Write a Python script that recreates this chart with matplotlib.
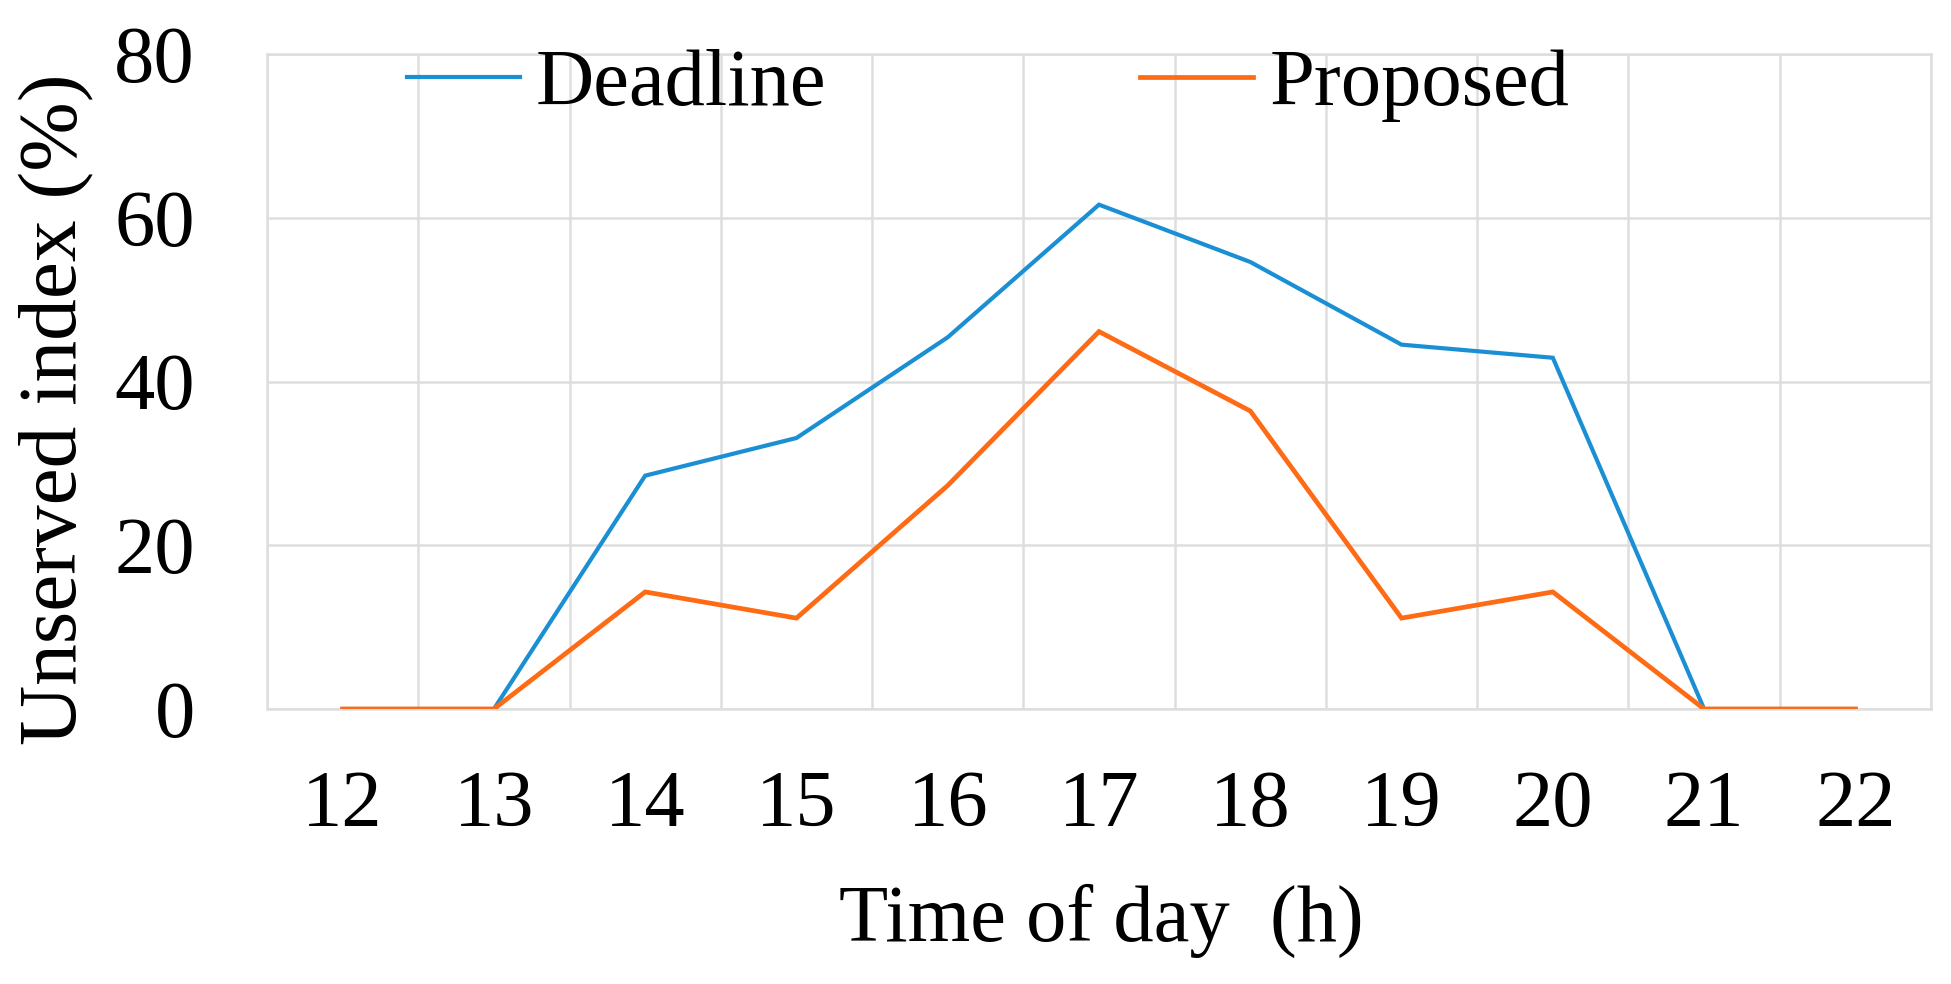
import numpy as np
import matplotlib
matplotlib.use("Agg")
import matplotlib.pyplot as plt

# data
hours = ["12", "13", "14", "15", "16", "17", "18", "19", "20", "21", "22"]
deadline = [0, 0, 28.5, 33.1, 45.4, 61.6, 54.6, 44.5, 42.9, 0, 0]
proposed = [0, 0, 14.3, 11.1, 27.3, 46.1, 36.4, 11.1, 14.3, 0, 0]
y_ticks = [0, 20, 40, 60, 80]

plt.rcParams['font.family'] = ['Liberation Serif', 'DejaVu Serif']
fs = 58
grid_col = '#dedede'

fig = plt.figure(figsize=(19.51, 9.84), dpi=100)
ax = fig.add_axes([267 / 1951, 1 - 709 / 984, (1931 - 267) / 1951, (709 - 54) / 984])

x = np.arange(len(hours))
ax.plot(x, deadline, color='#1a8fd4', lw=3.0, label='Deadline', solid_joinstyle='miter', zorder=3)
ax.plot(x, proposed, color='#ff6a14', lw=3.4, label='Proposed', solid_joinstyle='miter', zorder=4)

ax.set_xlim(-0.5, len(hours) - 0.5)
ax.set_ylim(0, 80)
ax.set_xticks(x)
ax.set_xticklabels(hours)
ax.set_xticks(np.arange(-0.5, len(hours), 1.0), minor=True)
ax.set_yticks(y_ticks)
ax.tick_params(axis='both', which='both', length=0, labelsize=fs)
ax.tick_params(axis='x', pad=44)
ax.tick_params(axis='y', pad=52)
ax.grid(True, axis='x', which='minor', color=grid_col, lw=1.8)
ax.grid(True, axis='y', which='major', color=grid_col, lw=1.8)
for s in ax.spines.values():
    s.set_color(grid_col)
    s.set_linewidth(1.8)
ax.set_axisbelow(True)

fig.text(57 / 1951, 1 - 409 / 984, 'Unserved index (%)', rotation=90,
         ha='center', va='center', fontsize=60)
fig.text(1101 / 1951, 1 - 921 / 984, 'Time of day  (h)', ha='center', va='center', fontsize=fs)

ax.legend(loc='center left', bbox_to_anchor=(0.084, 0.952), ncol=2, frameon=False,
          fontsize=fs, handlelength=1.4, handletextpad=0.2, columnspacing=3.9,
          borderpad=0, borderaxespad=0)

fig.savefig('out.png', dpi=100)
